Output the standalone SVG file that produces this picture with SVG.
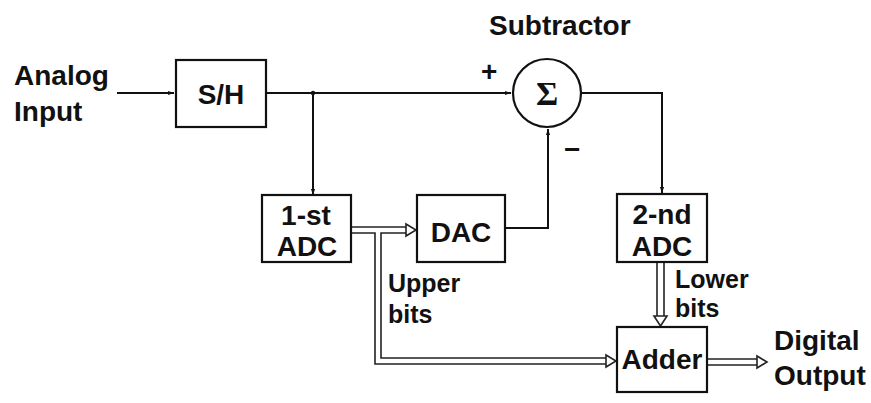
<svg xmlns="http://www.w3.org/2000/svg" width="871" height="403" viewBox="0 0 871 403">
<defs>
<style>
.box{fill:#fff;stroke:#111;stroke-width:2.2}
.ln{fill:none;stroke:#111;stroke-width:2}
.bus{fill:none;stroke:#222;stroke-width:1.6}
.hol{fill:#fff;stroke:#222;stroke-width:1.6;stroke-linejoin:miter}
.t{font-family:"Liberation Sans",Arial,sans-serif;font-weight:bold;font-size:28px;fill:#111}
.s{font-size:25px}
.c{text-anchor:middle}
</style>
<marker id="ar" viewBox="0 0 10 10" refX="10" refY="5" markerWidth="6" markerHeight="6" orient="auto" markerUnits="userSpaceOnUse">
<path d="M0,1.5 L10,5 L0,8.5 Z" fill="#111"/>
</marker>
</defs>
<rect width="871" height="403" fill="#fff"/>

<g id="connectors">
<path class="ln" d="M117,93 L174,93" marker-end="url(#ar)"/>
<path class="ln" d="M266,93 L511,93" marker-end="url(#ar)"/>
<circle cx="313" cy="93" r="2.2" fill="#111"/>
<path class="ln" d="M313,93 L313,195" marker-end="url(#ar)"/>
<path class="ln" d="M581,93 L662,93 L662,193" marker-end="url(#ar)"/>
<path class="ln" d="M505,228 L548,228 L548,129" marker-end="url(#ar)"/>
<!-- bus 1st ADC -> DAC and to Adder -->
<path class="bus" d="M351,227 L408,227"/>
<path class="bus" d="M351,233 L375,233 L375,364 L607,364"/>
<path class="bus" d="M408,233 L381,233 L381,358 L607,358"/>
<path class="hol" d="M406,224 L416,230 L406,236 Z"/>
<path class="hol" d="M606,355 L616,361 L606,367 Z"/>
<!-- lower bits bus -->
<path class="bus" d="M657,262 L657,317 M664,262 L664,317"/>
<path class="hol" d="M654,316 L660.5,326 L667,316 Z"/>
<!-- output bus -->
<path class="bus" d="M707,359 L758,359 M707,365 L758,365"/>
<path class="hol" d="M757,356 L767,362 L757,368 Z"/>
</g>

<g id="analog-input">
<text class="t" x="14" y="85">Analog</text>
<text class="t" x="14" y="121">Input</text>
</g>

<g id="sh">
<rect class="box" x="176" y="60" width="90" height="67"/>
<text class="t c" x="221" y="104">S/H</text>
</g>

<g id="subtractor">
<text class="t" x="489" y="35">Subtractor</text>
<circle class="box" cx="547" cy="93" r="34"/>
<text x="547" y="105" text-anchor="middle" font-family="Liberation Serif,'DejaVu Serif',serif" font-weight="bold" font-size="34" fill="#111">Σ</text>
<text class="t" x="481" y="81" font-size="22">+</text>
<text class="t" x="564" y="159">−</text>
</g>

<g id="adc1">
<rect class="box" x="262" y="195" width="89" height="67"/>
<text class="t c" x="306" y="225">1-st</text>
<text class="t c" x="307" y="256">ADC</text>
</g>

<g id="dac">
<rect class="box" x="417" y="195" width="88" height="67"/>
<text class="t c" x="461" y="242">DAC</text>
</g>

<g id="adc2">
<rect class="box" x="617" y="194" width="90" height="68"/>
<text class="t c" x="662" y="224">2-nd</text>
<text class="t c" x="662" y="256">ADC</text>
</g>

<g id="adder">
<rect class="box" x="617" y="327" width="90" height="65"/>
<text class="t c" x="662" y="369">Adder</text>
</g>

<g id="labels">
<text class="t s" x="388" y="292">Upper</text>
<text class="t s" x="388" y="323">bits</text>
<text class="t s" x="675" y="288">Lower</text>
<text class="t s" x="675" y="317">bits</text>
<text class="t" x="774" y="350">Digital</text>
<text class="t" x="774" y="385">Output</text>
</g>
</svg>
